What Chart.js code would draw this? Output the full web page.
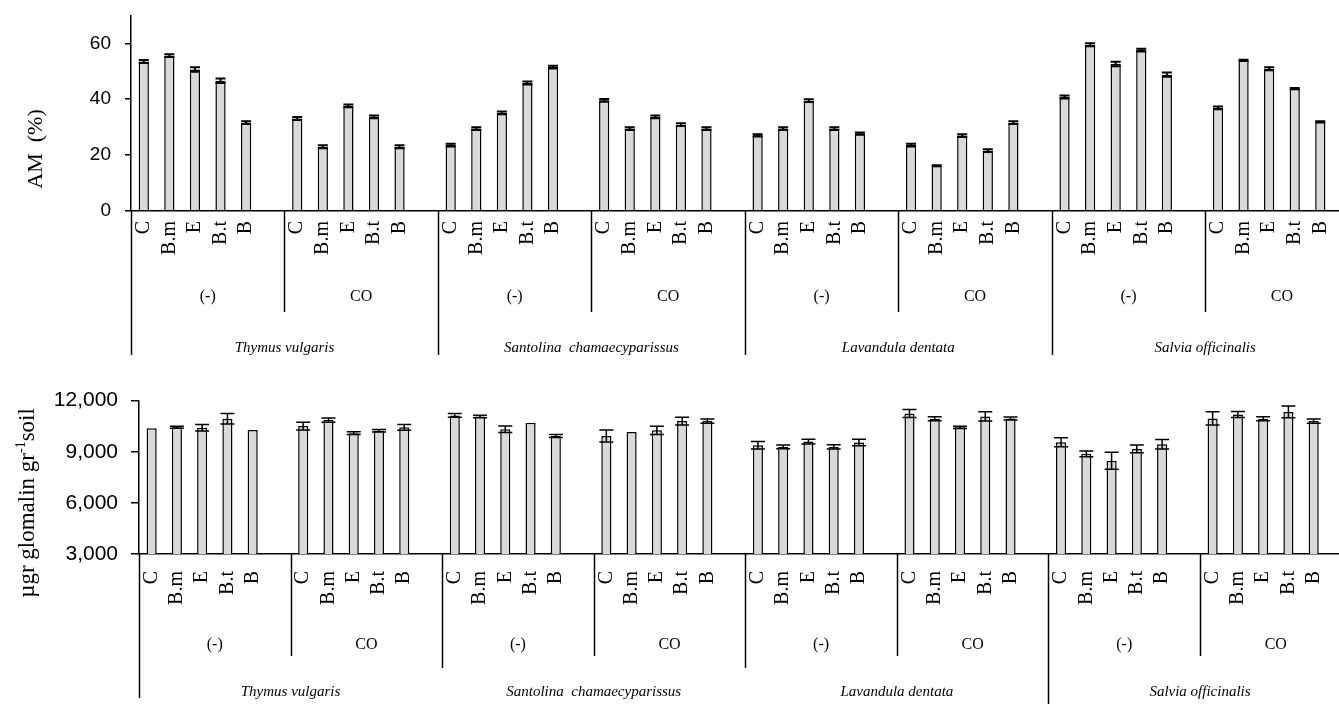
<!DOCTYPE html>
<html>
<head>
<meta charset="utf-8">
<script src="https://cdn.jsdelivr.net/npm/chart.js@4"></script>
<style>
  html, body { margin: 0; padding: 0; background: #fff; overflow: hidden; width: 1339px; height: 704px; }
  canvas { position: absolute; left: 0; }
  #am { top: -10px; }
  #glo { top: 375px; }
</style>
</head>
<body>
<canvas id="am" width="1380" height="390"></canvas>
<canvas id="glo" width="1380" height="329"></canvas>
<script>
// categories
var treatments = ['C', 'B.m', 'E', 'B.t', 'B'];
var subgroups = ['(-)', 'CO'];
var species = ['Thymus vulgaris', 'Santolina  chamaecyparissus', 'Lavandula dentata', 'Salvia officinalis'];

// AM (%) - 8 groups of 5 (species x subgroup)
var amMean = [
  53.5, 55.6, 50.6, 46.6, 31.6,
  33.1, 23.0, 37.6, 33.7, 23.0,
  23.6, 29.5, 35.1, 45.8, 51.5,
  39.6, 29.5, 33.7, 30.9, 29.5,
  27.1, 29.5, 39.5, 29.5, 27.7,
  23.6, 16.2, 27.0, 21.6, 31.6,
  40.8, 59.5, 52.6, 57.6, 48.8,
  36.9, 53.9, 50.9, 43.8, 31.9
];
var amErr = [
  0.5, 0.5, 0.8, 0.8, 0.5,
  0.5, 0.5, 0.5, 0.5, 0.5,
  0.5, 0.5, 0.5, 0.5, 0.5,
  0.5, 0.5, 0.5, 0.5, 0.5,
  0.4, 0.5, 0.5, 0.5, 0.4,
  0.5, 0.2, 0.5, 0.5, 0.5,
  0.5, 0.5, 0.8, 0.5, 0.8,
  0.5, 0.2, 0.5, 0.2, 0.2
];

// glomalin (ugr / gr soil)
var gloMean = [
  10372, 10440, 10407, 10930, 10272,
  10505, 10855, 10090, 10230, 10430,
  11128, 11070, 10313, 10700, 9925,
  9925, 10156, 10254, 10797, 10797,
  9380, 9283, 9595, 9283, 9536,
  11243, 10932, 10430, 11070, 10950,
  9557, 8876, 8469, 9167, 9440,
  10953, 11186, 10932, 11337, 10797
];
var gloErr = [
  0, 60, 190, 310, 0,
  230, 120, 80, 70, 175,
  110, 70, 190, 0, 90,
  350, 0, 240, 230, 120,
  220, 110, 140, 120, 190,
  240, 120, 60, 270, 90,
  270, 170, 500, 230, 280,
  390, 180, 120, 340, 120
];

var amTicks = [0, 20, 40, 60];
var gloTicks = [3000, 6000, 9000, 12000];

// 6 slots per group, last one empty
function expand(arr, fill) {
  var out = [];
  for (var g = 0; g < 8; g++) {
    for (var k = 0; k < 5; k++) out.push(arr[g * 5 + k]);
    out.push(fill);
  }
  return out;
}
var labels = expand(treatments.concat(treatments, treatments, treatments, treatments, treatments, treatments, treatments), '');

Chart.defaults.font.family = 'Liberation Serif';
Chart.defaults.color = '#000';

var errorBars = {
  id: 'errorBars',
  afterDatasetsDraw: function (chart, args, opts) {
    var ctx = chart.ctx, y = chart.scales.y;
    var meta = chart.getDatasetMeta(0);
    var vals = chart.data.datasets[0].data;
    ctx.save();
    ctx.strokeStyle = '#000';
    ctx.lineWidth = opts.lineWidth;
    meta.data.forEach(function (bar, i) {
      var v = vals[i], e = opts.errors[i];
      if (v == null || !e) return;
      var t = y.getPixelForValue(v + e), b = y.getPixelForValue(v - e), w = opts.capWidth / 2;
      ctx.beginPath();
      ctx.moveTo(bar.x, t); ctx.lineTo(bar.x, b);
      ctx.moveTo(bar.x - w, t); ctx.lineTo(bar.x + w, t);
      ctx.moveTo(bar.x - w, b); ctx.lineTo(bar.x + w, b);
      ctx.stroke();
    });
    ctx.restore();
  }
};

var groupLabels = {
  id: 'groupLabels',
  afterDraw: function (chart, args, opts) {
    var ctx = chart.ctx, x = chart.scales.x, y0 = chart.chartArea.bottom;
    var half = (x.getPixelForValue(1) - x.getPixelForValue(0)) / 2;
    var edge = function (g) { return x.getPixelForValue(g * 6) - half; };
    ctx.save();
    ctx.strokeStyle = '#000';
    ctx.lineWidth = 1.5;
    for (var g = 0; g <= 8; g++) {
      var px = Math.round(edge(g)) + 0.5;
      var len = g % 2 ? opts.subLen : opts.speciesLen[g / 2];
      ctx.beginPath();
      ctx.moveTo(px, y0);
      ctx.lineTo(px, y0 + len);
      ctx.stroke();
    }
    ctx.fillStyle = '#000';
    ctx.textAlign = 'center';
    ctx.textBaseline = 'middle';
    ctx.font = opts.subFont;
    for (var g2 = 0; g2 < 8; g2++) {
      ctx.fillText(subgroups[g2 % 2], (edge(g2) + edge(g2 + 1)) / 2, y0 + opts.subY);
    }
    ctx.font = opts.speciesFont;
    for (var s = 0; s < 4; s++) {
      ctx.fillText(species[s], (edge(2 * s) + edge(2 * s + 2)) / 2, y0 + opts.speciesY);
    }
    // y title, drawn in pieces so a superscript can be used
    var parts = opts.title;
    ctx.translate(opts.titleX, y0 + opts.titleY);
    ctx.rotate(-Math.PI / 2);
    ctx.textAlign = 'left';
    var total = 0;
    parts.forEach(function (p) {
      ctx.font = p.sup ? opts.supFont : opts.titleFont;
      total += ctx.measureText(p.t).width;
    });
    var cx = -total / 2;
    parts.forEach(function (p) {
      ctx.font = p.sup ? opts.supFont : opts.titleFont;
      ctx.fillText(p.t, cx, p.sup ? -7 : 0);
      cx += ctx.measureText(p.t).width;
    });
    ctx.restore();
  }
};

function makeChart(id, data, errs, cfg) {
  return new Chart(document.getElementById(id), {
    type: 'bar',
    data: {
      labels: labels,
      datasets: [{
        data: expand(data, null),
        backgroundColor: '#d9d9d9',
        borderColor: '#000',
        borderWidth: 1.5,
        barPercentage: 0.4,
        categoryPercentage: 1
      }]
    },
    options: {
      responsive: false,
      animation: false,
      layout: { padding: { top: 0, right: cfg.padRight, left: 0, bottom: 0 } },
      plugins: {
        legend: { display: false },
        tooltip: { enabled: false },
        errorBars: { errors: expand(errs, 0), capWidth: cfg.capWidth, lineWidth: cfg.errWidth },
        groupLabels: cfg.groups
      },
      scales: {
        x: {
          grid: { display: false, drawTicks: false },
          border: { display: true, color: '#000', width: 1.5 },
          ticks: { autoSkip: false, maxRotation: 90, minRotation: 90, padding: cfg.xPad, font: { size: 20 } },
          afterFit: function (s) { s.height = cfg.xHeight; }
        },
        y: {
          min: cfg.min,
          max: cfg.max,
          afterBuildTicks: function (s) { s.ticks = cfg.ticks.map(function (v) { return { value: v }; }); },
          grid: { drawOnChartArea: false, color: '#000', lineWidth: 1.5, tickLength: cfg.tickLen },
          border: { display: true, color: '#000', width: 1.5 },
          ticks: {
            padding: cfg.yPad,
            font: { family: 'Liberation Sans', size: cfg.yFont },
            callback: function (v) { return v.toLocaleString('en-US'); }
          },
          afterFit: function (s) { s.width = cfg.yWidth; }
        }
      }
    },
    plugins: [errorBars, groupLabels]
  });
}

makeChart('am', amMean, amErr, {
  padRight: 12, capWidth: 10, errWidth: 2, xPad: 10, xHeight: 169,
  min: 0, max: 70, ticks: amTicks, tickLen: 6, yPad: 14, yFont: 19, yWidth: 131,
  groups: {
    subLen: 101, speciesLen: [144, 144, 144, 144, 144], subY: 86, speciesY: 137,
    subFont: '16px "Liberation Serif"', speciesFont: 'italic 15px "Liberation Serif"',
    title: [{ t: 'AM  (%)' }], titleX: 36, titleY: -62,
    titleFont: '22px "Liberation Serif"', supFont: '14px "Liberation Serif"'
  }
});

makeChart('glo', gloMean, gloErr, {
  padRight: 6, capWidth: 14, errWidth: 1.5, xPad: 17, xHeight: 150,
  min: 3000, max: 12000, ticks: gloTicks, tickLen: 8, yPad: 13, yFont: 21, yWidth: 139,
  groups: {
    subLen: 102, speciesLen: [144, 114, 114, 150, 114], subY: 91, speciesY: 138,
    subFont: '16px "Liberation Serif"', speciesFont: 'italic 15px "Liberation Serif"',
    title: [{ t: '\u00b5gr glomalin gr' }, { t: '-1', sup: true }, { t: 'soil' }], titleX: 28, titleY: -51,
    titleFont: '23px "Liberation Serif"', supFont: '14px "Liberation Serif"'
  }
});
</script>
</body>
</html>
